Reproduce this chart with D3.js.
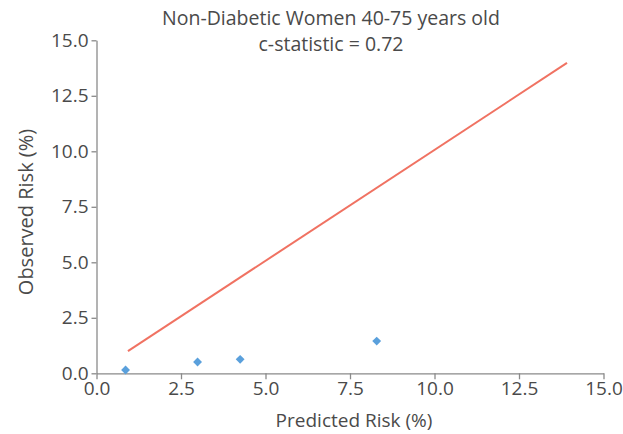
<!DOCTYPE html>
<html><head><meta charset="utf-8">
<script src="https://cdn.jsdelivr.net/npm/d3@7"></script>
<style>
html,body{margin:0;padding:0;background:#fff;}
text{font-family:"Open Sans",sans-serif;fill:#4a4a4a;}
</style></head>
<body><svg id="c" width="623" height="434"></svg>
<script>
const titleLines = ["Non-Diabetic Women 40-75 years old", "c-statistic = 0.72"];
const xLabel = "Predicted Risk (%)";
const yLabel = "Observed Risk (%)";
const xTicks = [0, 2.5, 5, 7.5, 10, 12.5, 15];
const yTicks = [0, 2.5, 5, 7.5, 10, 12.5, 15];
const predicted = [0.86, 2.99, 4.25, 8.29];
const observed = [0.15, 0.51, 0.63, 1.45];
const refX = [0.93, 13.92];
const refY = [1.0, 13.98];

const svg = d3.select("#c");
const m = {l: 96.5, r: 603.5, t: 40.3, b: 373.3};
const x = d3.scaleLinear().domain([0, 15]).range([m.l, m.r]);
const y = d3.scaleLinear().domain([0, 15]).range([m.b, m.t]);
const fmt = d3.format(".1f");

const xa = svg.append("g").attr("transform", `translate(0,${m.b})`)
  .call(d3.axisBottom(x).tickValues(xTicks).tickFormat(fmt).tickSize(6).tickSizeOuter(0).tickPadding(2));
const ya = svg.append("g").attr("transform", `translate(${m.l},0)`)
  .call(d3.axisLeft(y).tickValues(yTicks).tickFormat(fmt).tickSize(5).tickSizeOuter(0).tickPadding(3));
[xa, ya].forEach(a => {
  a.selectAll("path,line").attr("stroke", "#8a8a8a").attr("stroke-width", 1.3);
  a.selectAll("text").style("font-size", "19px").style("fill", "#4a4a4a").attr("font-family", null);
});

svg.append("line")
  .attr("x1", x(refX[0])).attr("y1", y(refY[0]))
  .attr("x2", x(refX[1])).attr("y2", y(refY[1]))
  .attr("stroke", "#f07262").attr("stroke-width", 2);

svg.selectAll("path.pt").data(predicted.map((p, i) => [p, observed[i]]))
  .enter().append("path").attr("class", "pt")
  .attr("d", d3.symbol(d3.symbolDiamond2, 50))
  .attr("transform", d => `translate(${x(d[0])},${y(d[1])})`)
  .attr("fill", "#5aa0dc");

svg.append("text").attr("x", 331).attr("y", 24.5).attr("text-anchor", "middle")
  .style("font-size", "19.5px").text(titleLines[0]);
svg.append("text").attr("x", 331).attr("y", 51).attr("text-anchor", "middle")
  .style("font-size", "19.5px").text(titleLines[1]);

svg.append("text").attr("x", 354).attr("y", 427).attr("text-anchor", "middle")
  .style("font-size", "19px").text(xLabel);
svg.append("text").attr("transform", "translate(33,212) rotate(-90)").attr("text-anchor", "middle")
  .style("font-size", "20px").text(yLabel);
</script></body></html>
